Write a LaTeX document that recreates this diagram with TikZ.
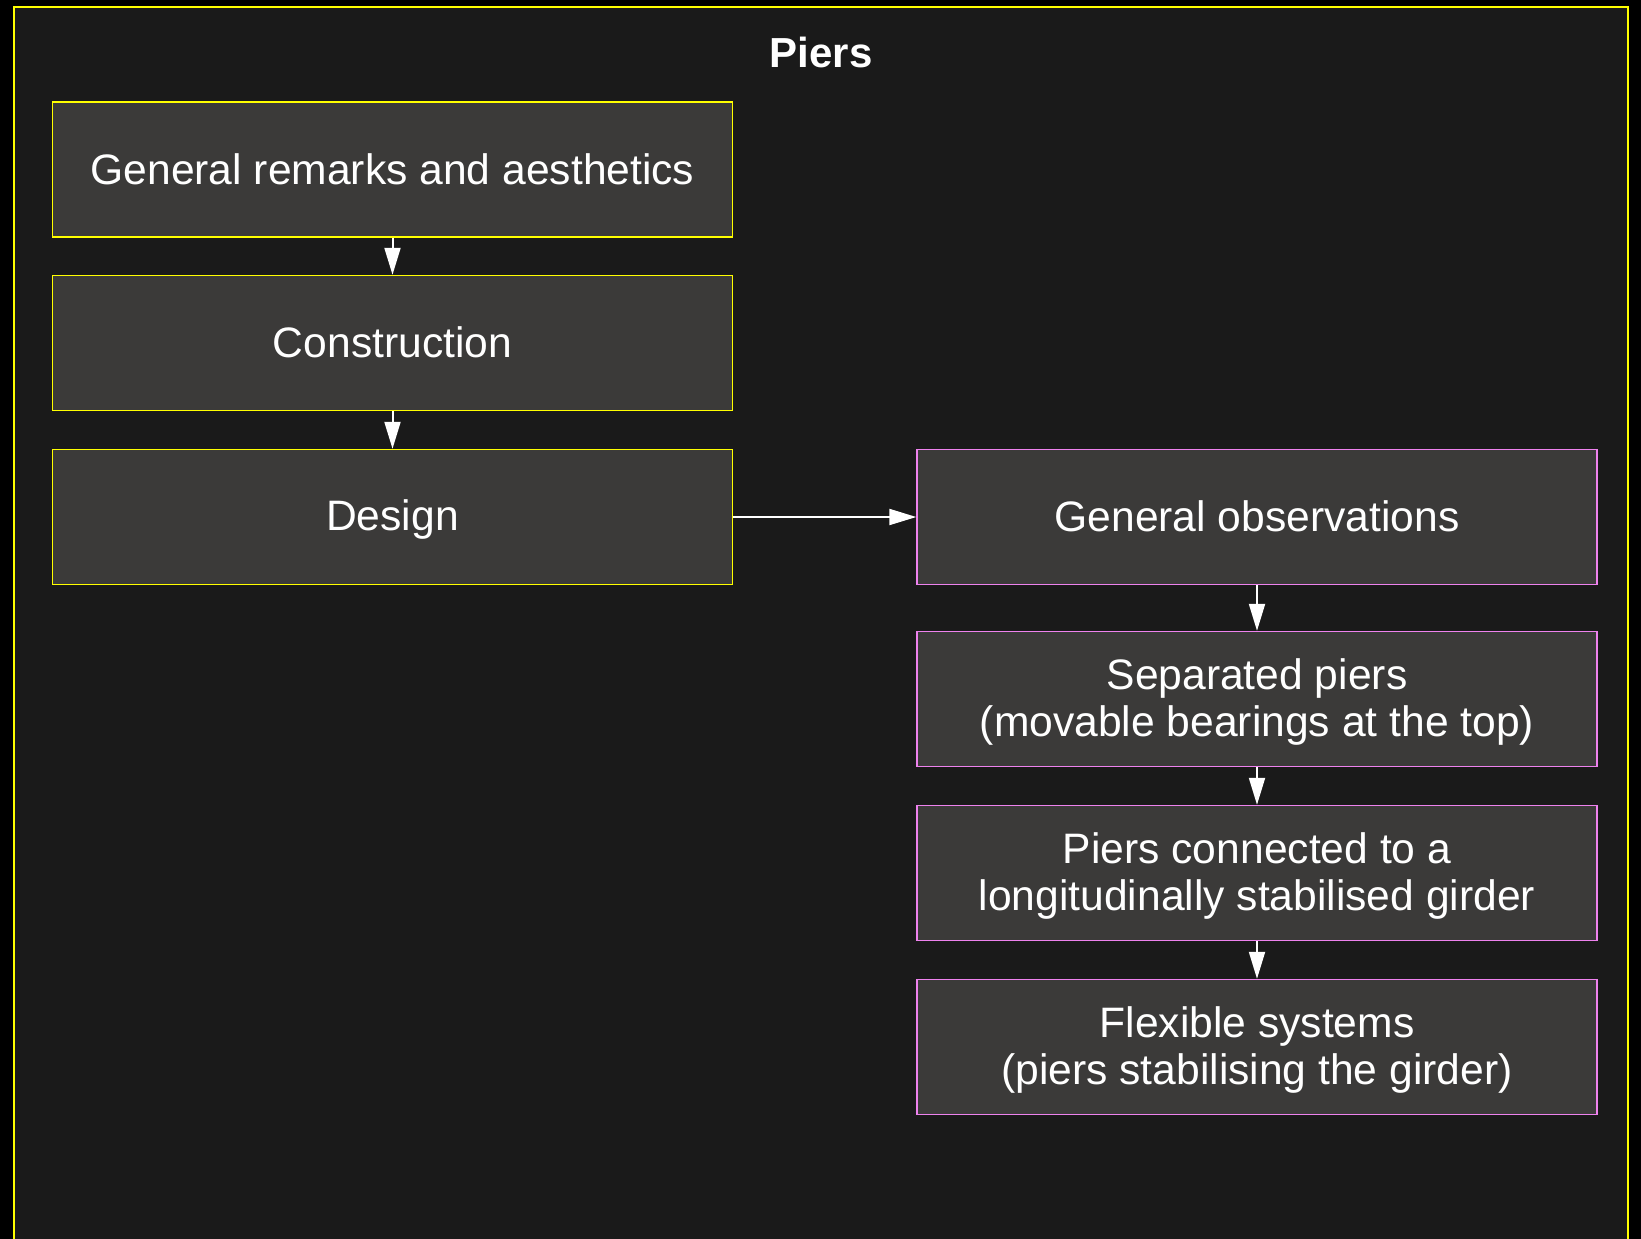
\documentclass[tikz,border=0pt]{standalone}
\usepackage{fontspec}
\setmainfont{Liberation Sans}
\usetikzlibrary{arrows.meta}
\definecolor{bgc}{HTML}{1A1A1A}
\definecolor{boxc}{HTML}{3B3A39}
\definecolor{yel}{HTML}{FFFF00}
\definecolor{pink}{HTML}{EE82EE}
\newcommand\ls{\rule[-7pt]{0pt}{43pt}}
\begin{document}
\begin{tikzpicture}[x=1pt,y=-1pt,
  yellowbox/.style={draw=yel,line width=1.4pt,fill=boxc,minimum width=680pt,minimum height=135pt,inner sep=0pt,text=white,font=\fontsize{42.6}{47}\selectfont,align=center},
  pinkbox/.style={yellowbox,draw=pink},
  conn/.style={draw=white,line width=2pt,-{Triangle[length=27pt,width=16pt]}}]
\useasboundingbox (0,0) rectangle (1641,1239);
\fill[black] (0,0) rectangle (1641,1239);
\draw[yel,line width=2pt,fill=bgc] (14,1250) -- (14,7) -- (1628,7) -- (1628,1250);
\node[text=white,font=\fontsize{42}{46}\selectfont\bfseries] (title) at (821,52) {Piers};
\node[yellowbox] (a) at (392.5,169.5) {\ls General remarks and aesthetics};
\node[yellowbox] (b) at (392.5,343) {\ls Construction};
\node[yellowbox] (c) at (392.5,517) {\ls Design};
\node[pinkbox] (d) at (1257,517) {\ls General observations};
\node[pinkbox] (e) at (1257,699) {\ls Separated piers\\\ls (movable bearings at the top)};
\node[pinkbox] (f) at (1257,873) {\ls Piers connected to a\\\ls longitudinally stabilised girder};
\node[pinkbox] (g) at (1257,1047) {\ls Flexible systems\\\ls (piers stabilising the girder)};
\draw[conn] (a) -- (b);
\draw[conn] (b) -- (c);
\draw[conn] (c) -- (d);
\draw[conn] (d) -- (e);
\draw[conn] (e) -- (f);
\draw[conn] (f) -- (g);
\end{tikzpicture}
\end{document}
